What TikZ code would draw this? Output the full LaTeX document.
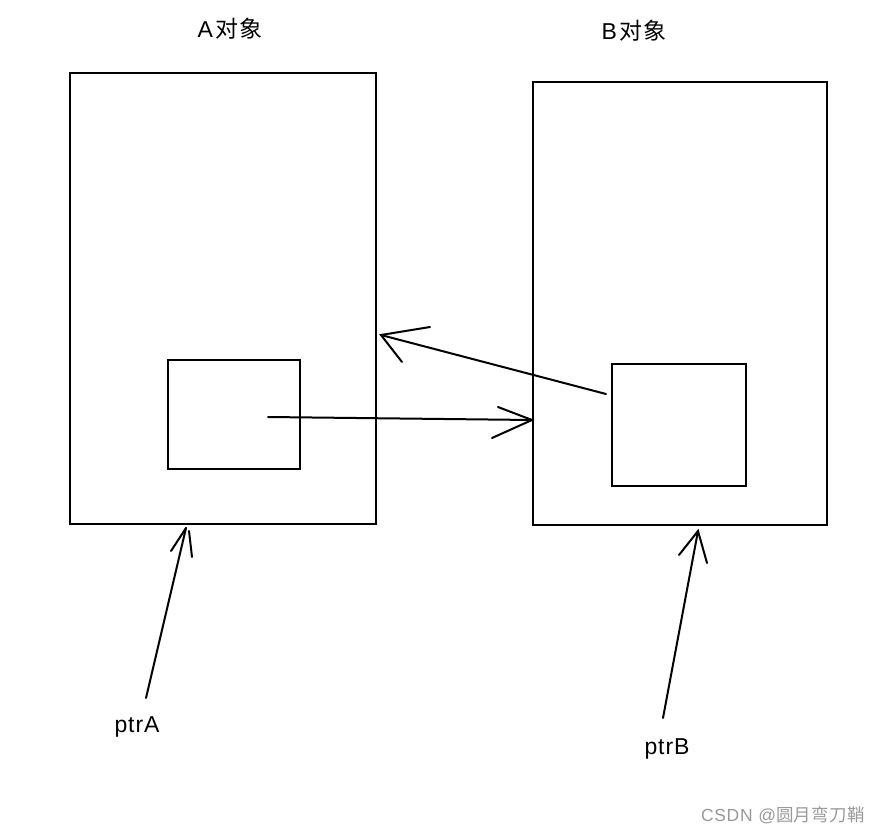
\documentclass[tikz,border=0pt]{standalone}
\usepackage{fontspec}
\setmainfont{Liberation Sans}[LetterSpace=4]
\newfontfamily\cjk{Noto Sans CJK SC}[LetterSpace=2]
\begin{document}
\begin{tikzpicture}[x=1pt,y=-1pt,
  ln/.style={line width=2pt,line cap=round},
  boxline/.style={line width=2pt},
  lbl/.style={font=\fontsize{23}{27}\selectfont,inner sep=0pt},
  ttl/.style={font=\fontsize{23}{27}\selectfont,inner sep=0pt}]
\useasboundingbox (0,0) rectangle (884,834);
% outer boxes
\draw[boxline] (70,73) rectangle (376,524);
\draw[boxline] (533,82) rectangle (827,525);
% inner boxes
\draw[boxline] (168,360) rectangle (300,469);
\draw[boxline] (612,364) rectangle (746,486);
% titles
\node[ttl] (tA) at (230,29) {A\hspace{3pt}{\cjk 对象}};
\node[ttl] (tB) at (634,31) {B\hspace{3pt}{\cjk 对象}};
% labels
\node[lbl] (pA) at (137,727) {ptrA};
\node[lbl] (pB) at (667,749) {ptrB};
\node[font=\fontsize{17.5}{20}\selectfont,text=black!40,inner sep=0pt] (wm) at (783,815) {CSDN @{\cjk 圆月弯刀鞘}};
% coordinates
\coordinate (a1) at (268,417);
\coordinate (a2) at (532,420);
\coordinate (b1) at (606,394);
\coordinate (b2) at (381,335);
\coordinate (c1) at (146,698);
\coordinate (c2) at (186,528);
\coordinate (d1) at (663,718);
\coordinate (d2) at (698,531);
% shafts
\draw[ln] (a1) -- (a2);
\draw[ln] (b1) -- (b2);
\draw[ln] (c1) -- (c2);
\draw[ln] (d1) -- (d2);
% hand-drawn heads
\draw[ln] (498,407) -- (a2) -- (492,438);
\draw[ln] (430,327) -- (b2) -- (402,362);
\draw[ln] (171,551) -- (c2);
\draw[ln] (189,531) -- (192,557);
\draw[ln] (679,555) -- (d2) -- (707,563);
\end{tikzpicture}
\end{document}
